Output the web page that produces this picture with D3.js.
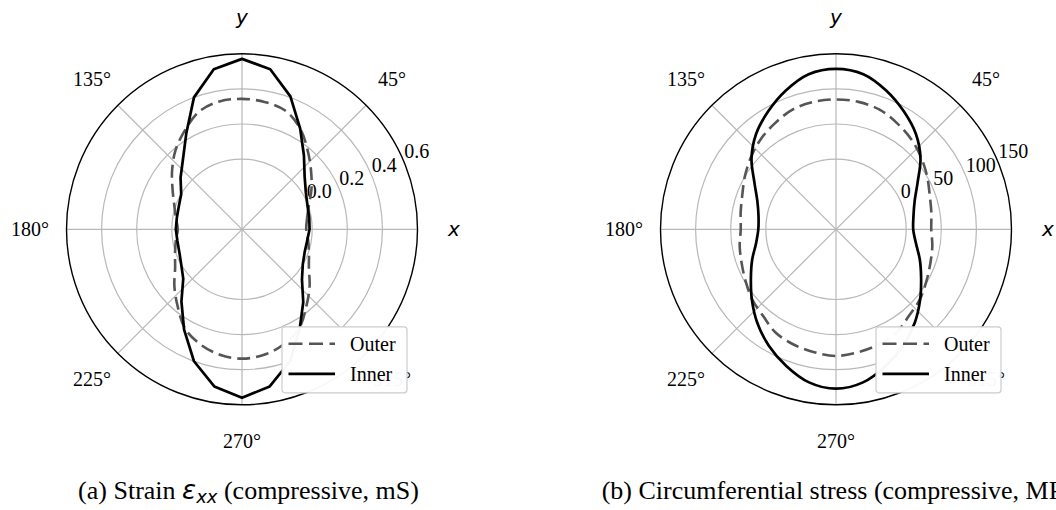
<!DOCTYPE html>
<html>
<head>
<meta charset="utf-8">
<script src="https://cdn.jsdelivr.net/npm/d3@7"></script>
<style>
  body { margin: 0; background: #fff; }
  svg { display: block; }
</style>
</head>
<body>
<svg id="chart" width="1056" height="510"></svg>
<script>
'use strict';

// polar angles of the samples (degrees, counter-clockwise from x)
const angles = [0, 10, 20, 30, 40, 50, 60, 70, 80, 90, 100, 110, 120, 130, 140, 150, 160, 170,
    180, 190, 200, 210, 220, 230, 240, 250, 260, 270, 280, 290, 300, 310, 320, 330, 340, 350];

// (a) strain, mS
const strainOuter = [-0.034, -0.023, 0.006, 0.057, 0.114, 0.183, 0.263, 0.32, 0.337, 0.343, 0.34, 0.314,
    0.251, 0.189, 0.12, 0.057, 0.011, -0.017, -0.034, -0.017, 0.006, 0.04, 0.103, 0.171,
    0.251, 0.297, 0.326, 0.337, 0.326, 0.297, 0.251, 0.171, 0.103, 0.04, 0.006, -0.017];
const strainInner = [-0.015, -0.011, -0.003, 0.02, 0.066, 0.149, 0.263, 0.406, 0.526, 0.571, 0.526, 0.4,
    0.234, 0.123, 0.057, 0.0, -0.017, -0.023, -0.023, -0.026, -0.02, 0.0, 0.037, 0.137,
    0.26, 0.4, 0.509, 0.56, 0.509, 0.4, 0.257, 0.143, 0.046, 0.0, -0.02, -0.023];

// (b) circumferential stress, MPa
const stressOuter = [35.7, 37.9, 42.1, 50, 58.6, 67.1, 74.3, 81.4, 84.3, 85, 84.3, 81.4,
    74.3, 67.1, 58.6, 50, 42.1, 37.9, 35.7, 39.3, 42.9, 48.6, 55.7, 61.4,
    70.7, 75, 77.9, 80.4, 77.9, 75, 70.7, 61.4, 55.7, 48.6, 42.9, 39.3];
const stressInner = [10, 12.1, 19.3, 34.3, 57.1, 77.1, 93.6, 110, 124.3, 128.6, 124.3, 110,
    93.6, 77.1, 57.1, 34.3, 19.3, 12.1, 10.7, 15.7, 27.1, 40, 56.4, 74.3,
    91.4, 107.1, 121.4, 127.1, 121.4, 107.1, 91.4, 74.3, 56.4, 40, 27.1, 15.7];

const strainDomain = [-0.4, 0.6];
const strainTicks = [0.0, 0.2, 0.4, 0.6];
const stressDomain = [-100, 150];
const stressTicks = [0, 50, 100, 150];

const angleTicks = [0, 45, 90, 135, 180, 225, 270, 315];
const angleLabels = ['x', '45°', 'y', '135°', '180°', '225°', '270°', '315°'];
const seriesNames = ['Outer', 'Inner'];

const svg = d3.select('#chart');
const SERIF = '"Liberation Serif", "Times New Roman", serif';
const SANS = '"DejaVu Sans", sans-serif';

class PolarPanel {
    constructor(cx, cy, domain, ticks, tickFormat, outer, inner, curved) {
        this.g = svg.append('g').attr('transform', `translate(${cx},${cy})`);
        this.R = 175.5;
        this.r = d3.scaleLinear().domain(domain).range([0, this.R]);
        this.ticks = ticks;
        this.tickFormat = tickFormat;
        this.outer = outer;
        this.inner = inner;
        this.curved = curved;
        this.drawGrid();
        this.drawLabels();
        this.drawLines();
        this.drawLegend();
    }

    drawGrid() {
        const grid = this.g.append('g');
        grid.selectAll('circle')
            .data(this.ticks.slice(0, -1))
            .enter().append('circle')
            .attr('r', d => this.r(d))
            .attr('fill', 'none')
            .attr('stroke', '#b8b8b8')
            .attr('stroke-width', 1.2);

        grid.selectAll('line')
            .data(angleTicks)
            .enter().append('line')
            .attr('x1', 0).attr('y1', 0)
            .attr('x2', d => this.R * Math.cos(d * Math.PI / 180))
            .attr('y2', d => -this.R * Math.sin(d * Math.PI / 180))
            .attr('stroke', '#b8b8b8')
            .attr('stroke-width', 1.2);

        this.g.append('circle')
            .attr('r', this.R)
            .attr('fill', 'none')
            .attr('stroke', '#000')
            .attr('stroke-width', 1.4);
    }

    drawLabels() {
        const lr = 212;
        this.g.append('g').selectAll('text')
            .data(angleTicks)
            .enter().append('text')
            .attr('x', d => lr * Math.cos(d * Math.PI / 180))
            .attr('y', d => -lr * Math.sin(d * Math.PI / 180))
            .attr('text-anchor', 'middle')
            .attr('dominant-baseline', 'central')
            .attr('font-size', 20)
            .attr('font-family', (d, i) => angleLabels[i].length === 1 ? SANS : SERIF)
            .attr('font-style', (d, i) => angleLabels[i].length === 1 ? 'oblique' : 'normal')
            .text((d, i) => angleLabels[i]);

        // radial tick labels sit along 22.5°
        const a = 22.5 * Math.PI / 180;
        this.g.append('g').selectAll('text')
            .data(this.ticks)
            .enter().append('text')
            .attr('x', d => this.r(d) * Math.cos(a))
            .attr('y', d => -this.r(d) * Math.sin(a) - 4)
            .attr('font-size', 20)
            .attr('font-family', SERIF)
            .text(this.tickFormat);
    }

    drawLines() {
        const line = d3.lineRadial()
            .angle((d, i) => Math.PI / 2 - angles[i] * Math.PI / 180)
            .radius(d => this.r(d));

        this.g.append('path')
            .attr('d', line.curve(d3.curveCatmullRomClosed)(this.outer))
            .attr('fill', 'none')
            .attr('stroke', '#555555')
            .attr('stroke-width', 2.6)
            .attr('stroke-dasharray', '13,6');

        this.g.append('path')
            .attr('d', line.curve(this.curved ? d3.curveCatmullRomClosed : d3.curveLinearClosed)(this.inner))
            .attr('fill', 'none')
            .attr('stroke', '#000')
            .attr('stroke-width', 2.7)
            .attr('stroke-linejoin', 'round');
    }

    drawLegend() {
        const lg = this.g.append('g').attr('transform', 'translate(40,97.5)');
        lg.append('rect')
            .attr('width', 125).attr('height', 66)
            .attr('rx', 3)
            .attr('fill', '#fff').attr('fill-opacity', 0.97)
            .attr('stroke', '#cccccc').attr('stroke-width', 1.2);

        const items = lg.selectAll('g.item')
            .data(seriesNames)
            .enter().append('g')
            .attr('class', 'item')
            .attr('transform', (d, i) => `translate(0,${17 + i * 30})`);

        items.append('line')
            .attr('x1', 6.5).attr('x2', 53)
            .attr('stroke', (d, i) => i === 0 ? '#555555' : '#000')
            .attr('stroke-width', (d, i) => i === 0 ? 2.6 : 2.7)
            .attr('stroke-dasharray', (d, i) => i === 0 ? '14,6.5' : null);

        items.append('text')
            .attr('x', 68).attr('y', 7)
            .attr('font-size', 20)
            .attr('font-family', SERIF)
            .text(d => d);
    }
}

new PolarPanel(242, 229.3, strainDomain, strainTicks, d3.format('.1f'), strainOuter, strainInner, false);
new PolarPanel(836, 229.3, stressDomain, stressTicks, d3.format('d'), stressOuter, stressInner, true);

// captions
const capA = svg.append('text')
    .attr('x', 248.5).attr('y', 499)
    .attr('text-anchor', 'middle')
    .attr('font-size', 26)
    .attr('font-family', SERIF);
capA.append('tspan').text('(a) Strain ');
capA.append('tspan').attr('font-family', SANS).attr('font-style', 'oblique').text('ε');
capA.append('tspan').attr('font-family', SANS).attr('font-style', 'oblique')
    .attr('font-size', 18).attr('dy', 4).text('xx');
capA.append('tspan').attr('dy', -4).text(' (compressive, mS)');

svg.append('text')
    .attr('x', 842.5).attr('y', 499)
    .attr('text-anchor', 'middle')
    .attr('font-size', 26)
    .attr('font-family', SERIF)
    .text('(b) Circumferential stress (compressive, MPa)');
</script>
</body>
</html>
